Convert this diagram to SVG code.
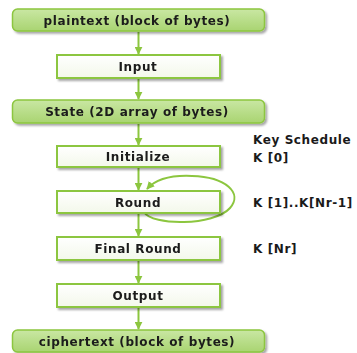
<svg xmlns="http://www.w3.org/2000/svg" width="357" height="353" viewBox="0 0 357 353">
<style>
.t{font-family:"DejaVu Sans",Verdana,sans-serif;font-weight:bold;font-size:12px;letter-spacing:0.6px;fill:#1a1a1a}
.c{text-anchor:middle}
.g{fill:url(#gg);stroke:#8cc63f;stroke-width:1.5}
.w{fill:url(#gw);stroke:#8cc63f;stroke-width:2}
.a{stroke:#8cc63f;stroke-width:2;fill:none}
</style>
<defs>
<linearGradient id="gg" x1="0" y1="0" x2="0" y2="1"><stop offset="0" stop-color="#c9e7a3"/><stop offset="1" stop-color="#a9d471"/></linearGradient>
<linearGradient id="gw" x1="0" y1="0" x2="0" y2="1"><stop offset="0" stop-color="#ffffff"/><stop offset="1" stop-color="#f3f8ea"/></linearGradient>
<filter id="sh" x="-10%" y="-30%" width="125%" height="180%"><feDropShadow dx="2" dy="2" stdDeviation="1.3" flood-color="#000" flood-opacity="0.35"/></filter>
<marker id="ar" viewBox="0 0 10 10" refX="9" refY="5" markerWidth="4" markerHeight="4" orient="auto"><path d="M0,0 L10,5 L0,10 z" fill="#8cc63f"/></marker>
</defs>
<g id="connectors">
<line class="a" x1="138.5" y1="32" x2="138.5" y2="54" marker-end="url(#ar)"/>
<line class="a" x1="138.5" y1="79" x2="138.5" y2="99" marker-end="url(#ar)"/>
<line class="a" x1="138.5" y1="124" x2="138.5" y2="145" marker-end="url(#ar)"/>
<line class="a" x1="138.5" y1="168" x2="138.5" y2="190" marker-end="url(#ar)"/>
<line class="a" x1="138.5" y1="214" x2="138.5" y2="236" marker-end="url(#ar)"/>
<line class="a" x1="138.5" y1="261" x2="138.5" y2="283" marker-end="url(#ar)"/>
<line class="a" x1="138.5" y1="308" x2="138.5" y2="329" marker-end="url(#ar)"/>
<path class="a" stroke-width="1.3" d="M144 212 C152 226 214 226 230 208 C243 193 226 177 192 176 C170 175 155 180 147 189" marker-end="url(#ar)"/>
</g>
<g id="plaintext" filter="url(#sh)"><rect class="g" x="12.5" y="9" width="252" height="22" rx="5"/><text class="t c" x="137" y="24.5">plaintext (block of bytes)</text></g>
<g id="input" filter="url(#sh)"><rect class="w" x="57" y="55" width="163" height="23"/><text class="t c" x="138" y="71">Input</text></g>
<g id="state" filter="url(#sh)"><rect class="g" x="12.5" y="100" width="252" height="23" rx="5"/><text class="t c" x="137" y="116">State (2D array of bytes)</text></g>
<g id="initialize" filter="url(#sh)"><rect class="w" x="57" y="146" width="163" height="21"/><text class="t c" x="138" y="161">Initialize</text></g>
<g id="round" filter="url(#sh)"><rect class="w" x="57" y="191" width="163" height="22"/><text class="t c" x="138" y="206.5">Round</text></g>
<g id="finalround" filter="url(#sh)"><rect class="w" x="57" y="237" width="163" height="23"/><text class="t c" x="138" y="253">Final Round</text></g>
<g id="output" filter="url(#sh)"><rect class="w" x="57" y="284" width="163" height="23"/><text class="t c" x="138" y="300">Output</text></g>
<g id="ciphertext" filter="url(#sh)"><rect class="g" x="12.5" y="330" width="252" height="22" rx="5"/><text class="t c" x="137" y="345.5">ciphertext (block of bytes)</text></g>
<g id="keys">
<text class="t" x="253" y="144">Key Schedule</text>
<text class="t" x="253" y="161.5">K [0]</text>
<text class="t" x="253" y="206.5">K [1]..K[Nr-1]</text>
<text class="t" x="253" y="252.5">K [Nr]</text>
</g>
</svg>
